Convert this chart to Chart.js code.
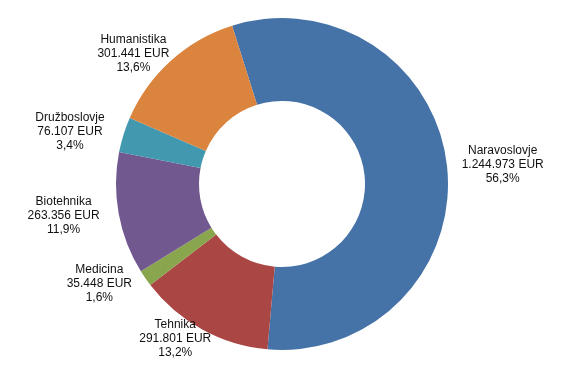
<!DOCTYPE html>
<html>
<head>
<meta charset="utf-8">
<script src="https://cdn.jsdelivr.net/npm/chart.js@4"></script>
<style>
  html, body { margin: 0; padding: 0; background: #fff; }
  canvas { display: block; }
</style>
</head>
<body>
<canvas id="donut" width="567" height="370"></canvas>
<script>
// ----------- Data ------------
const categories = ["Naravoslovje", "Tehnika", "Medicina", "Biotehnika", "Družboslovje", "Humanistika"];
const amounts = [1244973, 291801, 35448, 263356, 76107, 301441];
const sliceColors = ["#4572A7", "#AA4643", "#89A54E", "#71588F", "#4198AF", "#DB843D"];

const total = amounts.reduce((a, b) => a + b, 0);

function fmtEur(v) {
  return v.toString().replace(/\B(?=(\d{3})+(?!\d))/g, ".") + " EUR";
}
function fmtPct(v) {
  return ((v / total) * 100).toFixed(1).replace(".", ",") + "%";
}

// ----------- Outside labels ------------
const outsideLabels = {
  id: "outsideLabels",
  afterDatasetsDraw(chart) {
    const c = chart.ctx;
    const meta = chart.getDatasetMeta(0);
    c.save();
    c.font = "12px 'Liberation Sans', Arial, sans-serif";
    c.fillStyle = "#111";
    c.textAlign = "center";
    c.textBaseline = "middle";
    meta.data.forEach((arc, i) => {
      const mid = (arc.startAngle + arc.endAngle) / 2;
      const r = arc.outerRadius;
      const lx = arc.x + Math.cos(mid) * (r + 56);
      const ly = arc.y + Math.sin(mid) * (r + 10);
      const lines = [categories[i], fmtEur(amounts[i]), fmtPct(amounts[i])];
      lines.forEach((t, k) => {
        c.fillText(t, lx, ly + (k - 1) * 14);
      });
    });
    c.restore();
  },
};

new Chart(document.getElementById("donut"), {
  type: "doughnut",
  data: {
    labels: categories,
    datasets: [
      {
        data: amounts,
        backgroundColor: sliceColors,
        borderWidth: 0,
      },
    ],
  },
  options: {
    responsive: false,
    animation: false,
    rotation: -17.5,
    cutout: "50%",
    layout: { padding: { top: 18, bottom: 20, left: 100, right: 103 } },
    plugins: {
      legend: { display: false },
      tooltip: { enabled: false },
    },
  },
  plugins: [outsideLabels],
});
</script>
</body>
</html>
